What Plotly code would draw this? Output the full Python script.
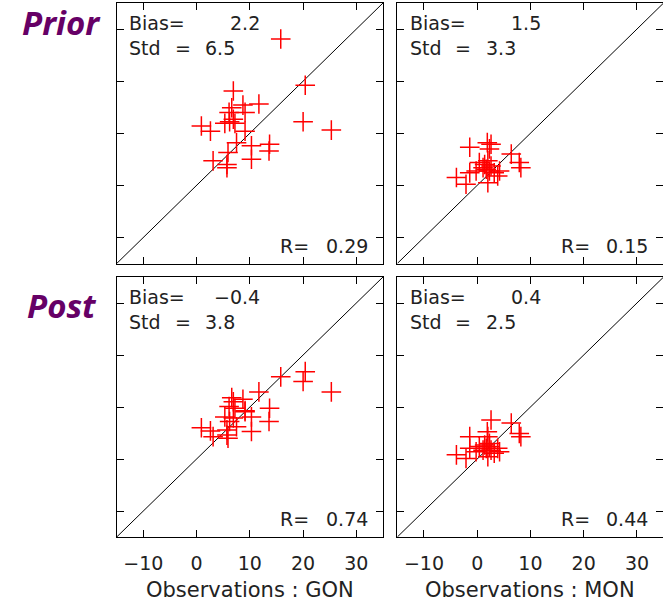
import plotly.graph_objects as go

W, H = 663, 602

# ---------------- data ----------------
obs_gon = [15.8, 20.4, 6.9, 8.7, 11.7, 6.6, 9.1, 6.1, 6.9, 6.2, 5.3, 7.2, 0.9,
           2.6, 9.1, 20.0, 25.3, 7.5, 10.3, 13.7, 13.6, 5.9, 3.1, 5.7, 5.7, 10.3]
prior_gon = [28.1, 19.2, 18.1, 15.4, 15.6, 14.9, 14.0, 14.0, 12.7, 12.2, 11.9, 11.9, 11.4,
             10.4, 10.4, 12.2, 10.6, 8.2, 7.6, 7.9, 6.6, 6.3, 4.7, 4.0, 3.4, 5.0]
post_gon = [15.8, 16.8, 11.0, 11.5, 12.9, 11.8, 9.1, 10.1, 7.9, 7.2, 8.1, 9.75, 6.0,
            5.4, 9.3, 14.9, 12.9, 6.2, 8.1, 9.75, 7.2, 4.0, 4.3, 4.6, 5.6, 5.3]

obs_mon = [-1.4, 1.9, 2.6, 2.3, 6.4, 7.9, 8.2, -3.9, -2.1, 0.4, 1.4,
           1.1, 1.7, -0.2, -1.4, 2.3, 3.2, 4.2, 3.85, 2.0, 2.6, 2.0]
prior_mon = [7.3, 8.2, 7.9, 7.0, 6.0, 4.4, 3.4, 1.5, 0.2, 4.4, 4.0,
             3.4, 3.1, 2.75, 2.4, 2.75, 2.4, 2.75, 1.8, 0.5, 3.7, 4.7]
post_mon = [4.3, 5.25, 7.5, 3.0, 6.9, 4.9, 4.3, 0.8, 0.1, 2.4, 2.7,
            1.7, 2.05, 1.4, 2.05, 2.4, 1.1, 1.4, 2.05, 0.45, 1.7, 4.3]

bias_text = ["2.2", "1.5", "\u22120.4", "0.4"]
std_text = ["6.5", "3.3", "3.8", "2.5"]
r_text = ["0.29", "0.15", "0.74", "0.44"]
row_labels = ["Prior", "Post"]
x_titles = ["Observations : GON", "Observations : MON"]
tick_vals = [-10, 0, 10, 20, 30]
axis_range = [-15, 35]

# ---------------- layout geometry (pixels) ----------------
FONT = "DejaVu Sans"
panels = [
    (obs_gon, prior_gon, 116.7, 383.0, 3.0, 263.5),
    (obs_mon, prior_mon, 397.3, 663.0, 3.0, 263.5),
    (obs_gon, post_gon, 116.7, 383.0, 277.0, 537.0),
    (obs_mon, post_mon, 397.3, 663.0, 277.0, 537.0),
]

fig = go.Figure()
annotations = []
for i, (xo, ym, l, r, t, b) in enumerate(panels):
    n = i + 1
    xa = "x" if n == 1 else f"x{n}"
    ya = "y" if n == 1 else f"y{n}"
    # 1:1 line
    fig.add_trace(go.Scatter(x=axis_range, y=axis_range, mode="lines",
                             line=dict(color="black", width=1),
                             xaxis=xa, yaxis=ya, showlegend=False, hoverinfo="skip"))
    fig.add_trace(go.Scatter(x=xo, y=ym, mode="markers",
                             marker=dict(symbol="cross-thin", size=14,
                                         line=dict(color="#FF0000", width=1.5)),
                             xaxis=xa, yaxis=ya, showlegend=False))
    px_per_unit = 266.3 / 50.0
    xmax = -15 + (r - l) / px_per_unit
    axcommon = dict(showgrid=False, zeroline=False, showline=True, linecolor="black",
                    linewidth=1, mirror="ticks", ticks="inside", ticklen=7,
                    tickcolor="black", tickwidth=1, tickvals=tick_vals)
    xkey = "xaxis" if n == 1 else f"xaxis{n}"
    ykey = "yaxis" if n == 1 else f"yaxis{n}"
    fig.update_layout(**{
        xkey: dict(domain=[l / W, r / W], range=[-15, xmax], anchor=ya,
                   showticklabels=(n >= 3), ticklabelstandoff=9,
                   tickfont=dict(family=FONT, size=19, color="#222222"),
                   **axcommon),
        ykey: dict(domain=[1 - b / H, 1 - t / H], range=axis_range, anchor=xa,
                   showticklabels=False, **axcommon),
    })
    txt = dict(xref=xa, yref=ya, showarrow=False,
               font=dict(family=FONT, size=19, color="#222222"), yanchor="middle")
    annotations += [
        dict(x=-13.0, y=31.1, text="Bias=", xanchor="left", **txt),
        dict(x=12.3, y=31.1, text=bias_text[i], xanchor="right", **txt),
        dict(x=-13.0, y=26.4, text="Std", xanchor="left", **txt),
        dict(x=-2.6, y=26.4, text="=", xanchor="center", **txt),
        dict(x=1.2, y=26.4, text=std_text[i], xanchor="left", **txt),
        dict(x=15.3, y=-11.6, text="R=", xanchor="left", **txt),
        dict(x=32.5, y=-11.6, text=r_text[i], xanchor="right", **txt),
    ]
    if n >= 3:
        annotations.append(dict(xref="paper", yref="paper", x=(l + (l + 266.3)) / 2 / W,
                                y=1 - 590 / H, text=x_titles[n - 3], showarrow=False,
                                xanchor="center", yanchor="middle",
                                font=dict(family=FONT, size=21, color="#222222")))

for j, (lab, yc) in enumerate(zip(row_labels, [23, 305])):
    annotations.append(dict(xref="paper", yref="paper", x=61.5 / W, y=1 - yc / H,
                            text=f"<b><i>{lab}</i></b>", showarrow=False,
                            xanchor="center", yanchor="middle",
                            font=dict(family="Noto Sans", size=33, color="#660066")))

fig.update_layout(width=W, height=H, margin=dict(l=0, r=0, t=0, b=0),
                  paper_bgcolor="white", plot_bgcolor="white",
                  annotations=annotations)

fig.write_html("out.html", post_script="document.body.style.margin='0';",
               config={"displayModeBar": False})
